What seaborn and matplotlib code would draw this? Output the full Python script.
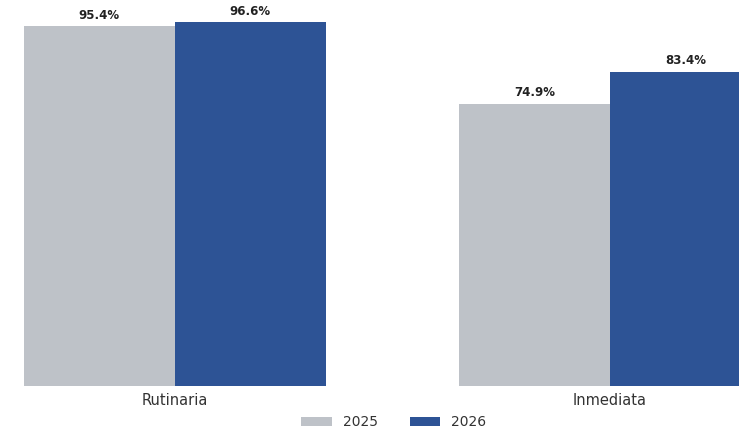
import pandas as pd
import seaborn as sns
import matplotlib.pyplot as plt

# values
categories = ["Rutinaria", "Inmediata"]
years = ["2025", "2026"]
values_2025 = [95.4, 74.9]
values_2026 = [96.6, 83.4]
colors = ["#BEC2C8", "#2D5395"]

df = pd.DataFrame({
    "categoria": categories * 2,
    "anio": [years[0]] * len(categories) + [years[1]] * len(categories),
    "valor": values_2025 + values_2026,
})

sns.set_theme(style="white")
plt.rcParams["font.family"] = ["DejaVu Sans"]

fig = plt.figure(figsize=(7.39, 4.32), dpi=100)
ax = fig.add_axes([0, 0.1065, 1, 0.8935])

sns.barplot(
    data=df, x="categoria", y="valor", hue="anio",
    order=categories, hue_order=years, palette=colors,
    width=0.694, gap=0, saturation=1, linewidth=0, ax=ax,
)

for container in ax.containers:
    ax.bar_label(container, labels=[f"{v:.1f}%" for v in container.datavalues],
                 padding=3, fontsize=8.5, fontweight="bold", color="#222222")

ax.set_xlim(-0.402, 1.297)
ax.set_ylim(0, 102.4)
ax.set_xlabel("")
ax.set_ylabel("")
ax.set_yticks([])
ax.tick_params(axis="x", length=0, pad=5, labelsize=10.5, labelcolor="#333333")
for side in ["top", "right", "left", "bottom"]:
    ax.spines[side].set_visible(False)

handles, labels = ax.get_legend_handles_labels()
ax.legend_.remove()
fig.legend(handles, labels, loc="lower center", bbox_to_anchor=(0.533, -0.022),
           ncol=2, frameon=False, fontsize=10, handlelength=2.2,
           handleheight=0.6, columnspacing=2.3, labelcolor="#333333")

fig.savefig("out.png", dpi=100)
